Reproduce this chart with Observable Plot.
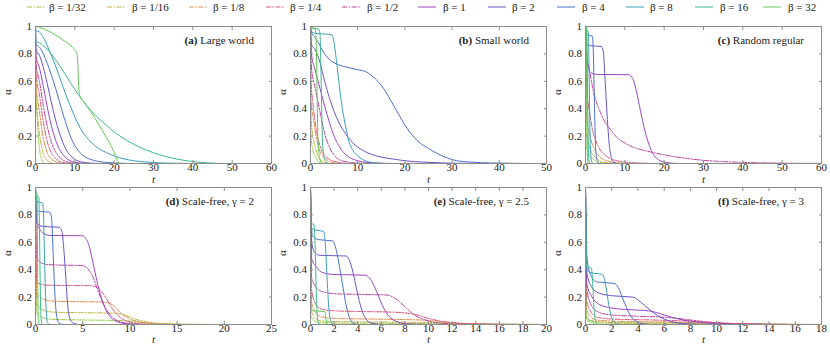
<!DOCTYPE html>
<html><head><meta charset="utf-8">
<script src="https://cdn.jsdelivr.net/npm/d3@7"></script>
<script src="https://cdn.jsdelivr.net/npm/@observablehq/plot@0.6"></script>
<style>
body{margin:0;background:#fff;}
#root{position:relative;width:830px;height:347px;font-family:"Liberation Serif","Times New Roman",serif;color:#222;overflow:hidden;}
.panel{position:absolute;}
.plabel{position:absolute;font-size:11px;line-height:13px;white-space:nowrap;text-align:right;}
.leg{position:absolute;font-size:11px;line-height:13px;white-space:nowrap;}
</style></head><body><div id="root"></div>
<script>
// ---- categories ----
const betas = ["1/32","1/16","1/8","1/4","1/2","1","2","4","8","16","32"];
const panelLetters = ["(a)","(b)","(c)","(d)","(e)","(f)"];
const panelTitles = ["Large world","Small world","Random regular","Scale-free, γ = 2","Scale-free, γ = 2.5","Scale-free, γ = 3"];
const xMaxes = [60,50,60,25,20,18];
const xSteps = [10,10,10,5,2,2];
const yTicks = [0,0.2,0.4,0.6,0.8,1];

// ---- series: [t, alpha] per beta (order as betas) ----
const largeWorld = [
  [[0,1],[0.1,0.6],[0.4,0.35],[0.8,0.17],[1.2,0.07],[1.6,0.025],[2,0.008],[2.5,0]],
  [[0,1],[0.1,0.5],[0.5,0.35],[1,0.22],[1.5,0.13],[2,0.07],[3,0.02],[4,0.005],[5,0]],
  [[0,1],[0.1,0.58],[1,0.38],[2,0.18],[3,0.08],[4,0.035],[5,0.014],[6,0.005],[7,0]],
  [[0,1],[0.1,0.66],[1,0.5],[2,0.3],[3,0.16],[4,0.08],[5,0.04],[6,0.018],[7,0.008],[9,0]],
  [[0,1],[0.1,0.73],[1,0.6],[2,0.42],[3,0.27],[4,0.16],[5,0.09],[6,0.05],[7,0.025],[8,0.012],[10,0.003],[11,0]],
  [[0,1],[0.1,0.78],[1,0.7],[2,0.56],[3,0.41],[4,0.28],[5,0.18],[6,0.11],[7,0.065],[8,0.035],[9,0.018],[10,0.009],[12,0.002],[13,0]],
  [[0,1],[0.1,0.83],[1,0.79],[2,0.7],[3,0.58],[4,0.45],[5,0.33],[6,0.23],[7,0.15],[8,0.09],[9,0.055],[10,0.03],[12,0.01],[14,0.003],[16,0]],
  [[0,1],[0.1,0.87],[1,0.85],[2,0.8],[3,0.73],[4,0.65],[5,0.56],[6,0.46],[7,0.36],[8,0.27],[9,0.19],[10,0.13],[11,0.09],[12,0.06],[14,0.03],[16,0.015],[18,0.008],[20,0.004],[24,0]],
  [[0,1],[0.1,0.97],[1,0.96],[2,0.92],[3,0.86],[4,0.79],[5,0.72],[6,0.64],[7,0.56],[8,0.48],[9,0.41],[10,0.34],[11,0.28],[12,0.23],[14,0.16],[16,0.11],[18,0.08],[20,0.055],[22,0.037],[25,0.02],[30,0.007],[35,0.002],[40,0]],
  [[0,1],[0.1,0.89],[1,0.88],[2,0.86],[4,0.8],[6,0.72],[8,0.63],[10,0.54],[12,0.46],[14,0.39],[16,0.33],[18,0.28],[20,0.23],[22,0.19],[24,0.155],[26,0.125],[28,0.1],[30,0.078],[33,0.052],[36,0.032],[40,0.014],[44,0.004],[48,0]],
  [[0,1],[1,0.995],[3,0.97],[5,0.94],[7,0.9],[9,0.86],[10,0.83],[10.5,0.81],[10.8,0.7],[11,0.55],[11.3,0.49],[12,0.46],[14,0.38],[16,0.29],[18,0.19],[19,0.14],[20,0.08],[20.5,0.04],[21,0.01],[21.5,0]]
];
const smallWorld = [
  [[0,1],[0.1,0.2],[0.5,0.1],[1,0.05],[1.5,0.02],[2,0.008],[3,0]],
  [[0,1],[0.1,0.35],[0.5,0.2],[1,0.12],[1.5,0.06],[2,0.03],[3,0.01],[4,0]],
  [[0,1],[0.1,0.45],[0.5,0.35],[1,0.24],[1.5,0.15],[2,0.09],[3,0.04],[4,0.015],[5,0.005],[6,0]],
  [[0,1],[0.1,0.6],[0.5,0.45],[1,0.3],[1.5,0.2],[2,0.13],[3,0.06],[4,0.03],[5,0.015],[6,0.008],[8,0]],
  [[0,1],[0.15,0.72],[1,0.55],[2,0.38],[3,0.22],[4,0.12],[5,0.06],[6,0.03],[8,0.01],[10,0.003],[12,0]],
  [[0,1],[0.2,0.8],[1,0.68],[2,0.55],[3,0.42],[4,0.3],[5,0.2],[6,0.13],[7,0.08],[8,0.05],[10,0.02],[12,0.008],[15,0.002],[18,0]],
  [[0,1],[0.2,0.87],[1,0.83],[2,0.74],[3,0.6],[4,0.48],[5,0.38],[6,0.3],[7,0.24],[8,0.19],[9,0.15],[10,0.12],[12,0.08],[14,0.055],[16,0.04],[18,0.03],[20,0.02],[24,0.01],[28,0.004],[32,0.001],[36,0]],
  [[0,1],[0.3,0.95],[1,0.92],[2,0.86],[3,0.8],[4,0.76],[6,0.72],[8,0.7],[10,0.685],[12,0.665],[13,0.64],[14,0.61],[15,0.57],[16,0.52],[17,0.46],[18,0.4],[19,0.34],[20,0.28],[21,0.23],[22,0.19],[23,0.155],[25,0.11],[27,0.07],[29,0.04],[31,0.02],[34,0.01],[38,0.004],[42,0.002],[46,0]],
  [[0,1],[0.3,0.96],[1,0.95],[3,0.945],[4.5,0.94],[5,0.88],[5.5,0.75],[6,0.6],[6.5,0.46],[7,0.35],[7.5,0.26],[8,0.18],[9,0.095],[10,0.055],[11,0.03],[12,0.015],[14,0.004],[16,0]],
  [[0,1],[0.5,0.99],[1.8,0.98],[2,0.95],[2.2,0.7],[2.4,0.35],[2.6,0.12],[3,0.03],[3.5,0.005],[4,0]],
  [[0,1],[0.3,0.99],[1,0.98],[1.2,0.9],[1.4,0.5],[1.6,0.15],[2,0.03],[2.5,0]]
];
const randomRegular = [
  [[0,1],[0.1,0.15],[1,0.06],[2,0.03],[3,0.012],[5,0.003],[6,0]],
  [[0,1],[0.1,0.25],[1,0.12],[2,0.06],[3,0.03],[4,0.015],[6,0.004],[8,0]],
  [[0,1],[0.2,0.35],[1,0.22],[2,0.12],[3,0.07],[4,0.04],[5,0.025],[6,0.015],[8,0.006],[10,0.002],[12,0]],
  [[0,1],[0.3,0.55],[1,0.38],[2,0.22],[3,0.14],[4,0.09],[5,0.06],[6,0.04],[8,0.02],[10,0.01],[14,0.003],[18,0]],
  [[0,1],[0.2,0.8],[0.6,0.74],[1,0.68],[2,0.53],[3,0.43],[4,0.36],[5,0.3],[6,0.26],[8,0.19],[10,0.15],[12,0.12],[15,0.095],[18,0.075],[21,0.058],[25,0.04],[29,0.026],[33,0.017],[38,0.01],[45,0.005],[52,0.002],[60,0.001]],
  [[0,1],[0.3,0.8],[0.7,0.7],[1.5,0.66],[3,0.65],[11,0.648],[12,0.62],[12.5,0.58],[13,0.52],[14,0.38],[15,0.25],[16,0.15],[17,0.08],[18,0.04],[19,0.02],[20,0.01],[22,0.002],[24,0]],
  [[0,1],[0.3,0.87],[1,0.86],[4,0.855],[4.5,0.82],[5,0.6],[5.5,0.35],[6,0.15],[6.5,0.05],[7,0.015],[8,0]],
  [[0,1],[0.2,0.94],[1.7,0.93],[2,0.8],[2.3,0.4],[2.6,0.1],[3,0.02],[3.5,0]],
  [[0,1],[0.1,0.97],[0.7,0.965],[0.9,0.7],[1.1,0.3],[1.3,0.08],[1.6,0.01],[2,0]],
  [[0,1],[0.3,0.99],[0.5,0.6],[0.7,0.15],[0.9,0.02],[1.2,0]],
  [[0,1],[0.15,0.99],[0.3,0.6],[0.45,0.1],[0.6,0.01],[0.8,0]]
];
const scaleFree2 = [
  [[0,1],[0.1,0.09],[0.5,0.06],[1,0.045],[2,0.037],[5,0.033],[8,0.03],[10,0.025],[11,0.018],[12,0.012],[13,0.007],[15,0.003],[18,0.001],[22,0]],
  [[0,1],[0.1,0.15],[0.5,0.12],[1,0.1],[2,0.09],[5,0.086],[8,0.083],[9,0.078],[9.5,0.068],[10,0.055],[11,0.03],[12,0.016],[13,0.008],[14,0.004],[16,0.001],[18,0]],
  [[0,1],[0.1,0.23],[0.5,0.2],[1,0.18],[2,0.17],[4,0.167],[7.5,0.163],[8,0.15],[8.5,0.12],[9,0.085],[9.5,0.06],[10,0.04],[11,0.02],[12,0.01],[13,0.005],[15,0.001],[16,0]],
  [[0,1],[0.1,0.32],[0.3,0.3],[1,0.288],[3,0.285],[6,0.283],[6.5,0.27],[7,0.24],[7.5,0.19],[8,0.13],[8.5,0.085],[9,0.05],[9.5,0.03],[10,0.018],[11,0.007],[12,0.002],[13,0]],
  [[0,1],[0.1,0.5],[0.3,0.47],[1,0.44],[2,0.435],[5,0.43],[5.5,0.41],[6,0.36],[6.5,0.27],[7,0.18],[7.5,0.11],[8,0.065],[8.5,0.035],[9,0.02],[10,0.006],[11,0.002],[12,0]],
  [[0,1],[0.15,0.74],[0.5,0.69],[1,0.66],[1.5,0.65],[5,0.648],[5.3,0.63],[5.7,0.57],[6,0.48],[6.5,0.32],[7,0.19],[7.5,0.1],[8,0.05],[8.5,0.025],[9,0.012],[10,0.003],[11,0]],
  [[0,1],[0.15,0.75],[0.5,0.72],[1,0.715],[2.5,0.71],[2.8,0.68],[3,0.55],[3.2,0.35],[3.4,0.15],[3.6,0.05],[4,0.01],[4.5,0]],
  [[0,1],[0.1,0.84],[0.5,0.825],[1.5,0.82],[1.7,0.78],[1.85,0.55],[2,0.3],[2.15,0.12],[2.3,0.04],[2.6,0.005],[3,0]],
  [[0,1],[0.1,0.9],[0.75,0.885],[0.85,0.8],[0.95,0.5],[1.05,0.25],[1.15,0.08],[1.3,0.01],[1.5,0]],
  [[0,1],[0.05,0.94],[0.35,0.93],[0.42,0.7],[0.5,0.3],[0.58,0.06],[0.7,0]],
  [[0,1],[0.02,0.97],[0.15,0.96],[0.2,0.6],[0.25,0.2],[0.3,0.03],[0.4,0]]
];
const scaleFree25 = [
  [[0,1],[0.04,0.06],[0.5,0.02],[1,0.012],[5,0.009],[10,0.007],[13,0.004],[16,0.002],[20,0]],
  [[0,1],[0.05,0.11],[0.5,0.04],[1,0.025],[3,0.02],[8,0.017],[11,0.013],[13,0.007],[15,0.003],[18,0.001],[20,0]],
  [[0,1],[0.06,0.17],[0.5,0.08],[1,0.055],[2,0.045],[5,0.04],[8,0.036],[10,0.03],[11,0.022],[12,0.014],[13,0.008],[15,0.003],[18,0.001],[20,0]],
  [[0,1],[0.08,0.26],[0.5,0.14],[1,0.11],[2,0.1],[4,0.095],[7,0.09],[8,0.085],[9,0.07],[10,0.045],[11,0.025],[12,0.012],[13,0.006],[15,0.002],[18,0]],
  [[0,1],[0.1,0.34],[0.5,0.27],[1,0.24],[2,0.225],[4,0.22],[6.5,0.215],[7,0.2],[7.5,0.17],[8,0.13],[8.5,0.09],[9,0.06],[9.5,0.04],[10,0.025],[11,0.01],[12,0.004],[14,0.001],[16,0]],
  [[0,1],[0.1,0.48],[0.5,0.42],[1,0.38],[2,0.365],[4.6,0.36],[5,0.34],[5.4,0.28],[5.8,0.2],[6.2,0.12],[6.6,0.065],[7,0.035],[7.5,0.015],[8.5,0.004],[10,0]],
  [[0,1],[0.1,0.6],[0.4,0.52],[0.8,0.505],[3,0.5],[3.3,0.47],[3.6,0.38],[3.9,0.26],[4.2,0.15],[4.5,0.07],[4.8,0.03],[5.2,0.01],[6,0]],
  [[0,1],[0.15,0.65],[0.6,0.62],[1.9,0.61],[2.1,0.57],[2.4,0.45],[2.7,0.3],[3,0.15],[3.3,0.05],[3.6,0.01],[4,0]],
  [[0,1],[0.1,0.7],[0.4,0.69],[1.1,0.68],[1.25,0.6],[1.4,0.35],[1.55,0.12],[1.7,0.03],[1.9,0]],
  [[0,1],[0.05,0.74],[0.3,0.73],[0.4,0.55],[0.5,0.2],[0.6,0.04],[0.75,0]],
  [[0,1],[0.05,0.12],[0.2,0.1],[1.2,0.095],[1.3,0.05],[1.4,0.01],[1.5,0]]
];
const scaleFree3 = [
  [[0,1],[0.04,0.04],[0.5,0.012],[4,0.007],[10,0.004],[15,0.001],[18,0]],
  [[0,1],[0.05,0.07],[0.5,0.025],[2,0.015],[8,0.01],[12,0.005],[16,0.001],[18,0]],
  [[0,1],[0.06,0.12],[0.5,0.045],[1,0.03],[3,0.022],[7,0.017],[10,0.01],[13,0.004],[16,0.001],[18,0]],
  [[0,1],[0.08,0.18],[0.5,0.08],[1,0.05],[2,0.04],[5,0.033],[7,0.028],[9,0.018],[11,0.008],[13,0.003],[16,0]],
  [[0,1],[0.1,0.26],[0.5,0.13],[1,0.09],[2,0.07],[4,0.06],[6,0.053],[7,0.045],[8,0.033],[9,0.022],[10,0.013],[11,0.007],[12,0.004],[14,0.001],[16,0]],
  [[0,1],[0.1,0.3],[0.5,0.2],[1,0.15],[2,0.12],[3,0.11],[4,0.105],[4.8,0.1],[5.5,0.085],[6,0.07],[6.5,0.055],[7,0.042],[8,0.024],[9,0.013],[10,0.006],[11,0.003],[12,0.001],[14,0]],
  [[0,1],[0.1,0.38],[0.5,0.27],[1,0.23],[2,0.21],[3.6,0.2],[4,0.18],[4.5,0.14],[5,0.1],[5.5,0.065],[6,0.04],[6.5,0.022],[7,0.012],[8,0.004],[9,0]],
  [[0,1],[0.1,0.5],[0.4,0.36],[0.9,0.31],[2.2,0.3],[2.5,0.27],[2.8,0.2],[3.1,0.13],[3.4,0.07],[3.7,0.035],[4,0.015],[4.5,0.004],[5,0]],
  [[0,1],[0.08,0.42],[0.3,0.38],[1.3,0.365],[1.45,0.33],[1.6,0.25],[1.8,0.13],[2,0.05],[2.2,0.015],[2.5,0]],
  [[0,1],[0.05,0.44],[0.15,0.42],[0.45,0.41],[0.55,0.3],[0.65,0.12],[0.75,0.03],[0.9,0]],
  [[0,1],[0.03,0.06],[0.3,0.03],[0.6,0.025],[0.65,0.005],[0.7,0]]
];
const panelSeries = [largeWorld, smallWorld, randomRegular, scaleFree2, scaleFree25, scaleFree3];

// ---- styles ----
const lineColors = ["#96cc45","#c4b445","#d98a48","#d9567a","#bb429c","#9c45c2","#6b52cc","#4a70d0","#3c9fba","#3cb98a","#62c855"];
const lineDash = ["5,1.5,1.5,1.5","5,1.5,1.5,1.5","5,1.5,1.5,1.5","5,1.5,1.5,1.5","5,1.5,1.5,1.5",null,null,null,null,null,null];
const legendLineX = [27,107,189,266,342,418,488,557,626,695,763];
const legendTextX = [49,132,213,290,367,443,512,582,650,720,788];
const colLeft = [35,310,585];
const rowTop = [26,187];
const rowTdy = [19.5, 18.5];
const frameW = 236, frameH = 137;
const mL = 35, mR = 4, mT = 4, mB = 24;
const blank = () => "";

const root = document.getElementById("root");

// legend
betas.forEach((b, i) => {
  const d = document.createElement("div");
  d.className = "leg";
  d.style.left = legendLineX[i] + "px";
  d.style.top = "0px";
  const dash = lineDash[i] ? `stroke-dasharray="${lineDash[i]}"` : "";
  d.innerHTML = `<svg width="18" height="13" style="position:absolute;left:0;top:0"><line x1="0" x2="18" y1="7" y2="7" stroke="${lineColors[i]}" stroke-width="1" ${dash}/></svg><span style="position:absolute;left:${legendTextX[i]-legendLineX[i]}px;top:0.5px">β = ${b}</span>`;
  root.appendChild(d);
});

panelSeries.forEach((series, p) => {
  const col = p % 3, row = Math.floor(p / 3);
  const fl = colLeft[col], ft = rowTop[row];
  const xmax = xMaxes[p];
  const xt = d3.range(0, xmax + xSteps[p] / 2, xSteps[p]);
  const lines = series.map((pts, i) => Plot.line(pts.map(([t, a]) => ({t, a})), {
    x: "t", y: "a", stroke: lineColors[i], strokeWidth: 1,
    strokeDasharray: lineDash[i] || undefined, curve: "monotone-x"
  }));
  const chart = Plot.plot({
    width: mL + frameW + mR, height: mT + frameH + mB,
    marginLeft: mL, marginRight: mR, marginTop: mT, marginBottom: mB,
    x: {domain: [0, xmax]}, y: {domain: [0, 1]},
    style: {fontFamily: '"Liberation Serif", "Times New Roman", serif', fontSize: "11px", color: "#222", background: "transparent", overflow: "visible"},
    marks: [
      ...lines,
      Plot.frame({stroke: "#8c8c8c"}),
      Plot.axisX({anchor: "bottom", ticks: xt, tickSize: -3, tickPadding: 3, stroke: "#8c8c8c", fill: "#222", label: null, tickFormat: d => String(d)}),
      Plot.axisX({anchor: "top", ticks: xt, tickSize: -3, stroke: "#8c8c8c", label: null, tickFormat: blank}),
      Plot.axisY({anchor: "left", ticks: yTicks, tickSize: -3, tickPadding: 6.5, stroke: "#8c8c8c", fill: "#222", label: null, tickFormat: d => String(d)}),
      Plot.axisY({anchor: "right", ticks: yTicks, tickSize: -3, stroke: "#8c8c8c", label: null, tickFormat: blank}),
      Plot.text(["α"], {frameAnchor: "left", dx: -28, rotate: -90, fill: "#222", fontSize: 11}),
      Plot.text(["t"], {frameAnchor: "bottom", dy: rowTdy[row], fontStyle: "italic", fill: "#222", fontSize: 11})
    ]
  });
  const wrap = document.createElement("div");
  wrap.className = "panel";
  wrap.style.left = (fl - mL) + "px";
  wrap.style.top = (ft - mT) + "px";
  wrap.appendChild(chart);
  root.appendChild(wrap);
  const lab = document.createElement("div");
  lab.className = "plabel";
  lab.style.right = (830 - (fl + frameW - 17)) + "px";
  lab.style.top = (ft + 7.5) + "px";
  lab.innerHTML = `<b>${panelLetters[p]}</b> ${panelTitles[p]}`;
  root.appendChild(lab);
});
</script></body></html>
